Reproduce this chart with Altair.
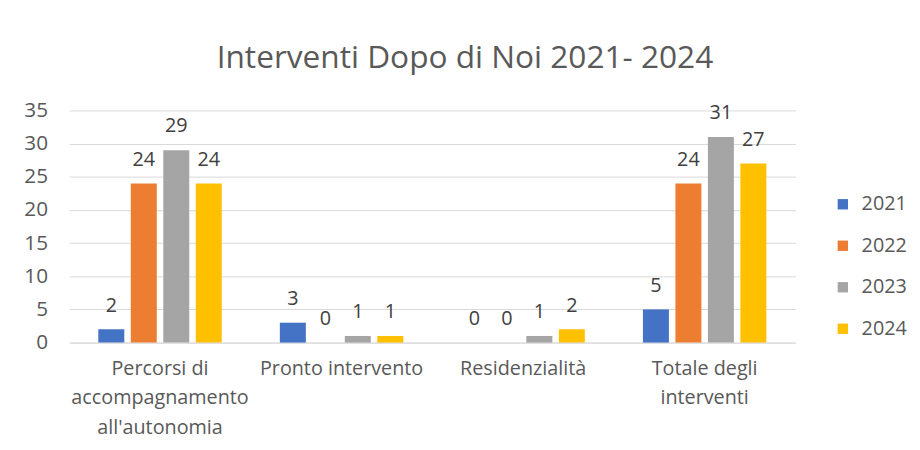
import json
import altair as alt
import pandas as pd

categories = ["Percorsi di accompagnamento all'autonomia", "Pronto intervento",
              "Residenzialità", "Totale degli interventi"]
years = ["2021", "2022", "2023", "2024"]
v2021 = [2, 3, 0, 5]
v2022 = [24, 0, 0, 24]
v2023 = [29, 1, 1, 31]
v2024 = [24, 1, 2, 27]
label_lines = [["Percorsi di", "accompagnamento", "all'autonomia"],
               ["Pronto intervento"], ["Residenzialità"],
               ["Totale degli", "interventi"]]
colors = ["#4472C4", "#ED7D31", "#A5A5A5", "#FFC000"]
y_ticks = [0, 5, 10, 15, 20, 25, 30, 35]

rows = []
for yr, vals in zip(years, [v2021, v2022, v2023, v2024]):
    for c, v in zip(categories, vals):
        rows.append({"category": c, "year": yr, "value": v})
df = pd.DataFrame(rows)

label_expr = "".join(
    f"datum.value == {json.dumps(c, ensure_ascii=False)} ? {json.dumps(l, ensure_ascii=False)} : "
    for c, l in zip(categories, label_lines)
) + "datum.label"

FONT = "Open Sans"
TXT = "#595959"

base = alt.Chart(df).encode(
    x=alt.X("category:N", sort=categories,
            scale=alt.Scale(paddingInner=0.32, paddingOuter=0.16),
            axis=alt.Axis(title=None, labelExpr=label_expr, labelAngle=0, ticks=False,
                          domainColor="#D9D9D9", labelFontSize=20, labelColor=TXT,
                          labelFont=FONT, labelLineHeight=30, labelPadding=16,
                          labelLimit=0)),
    xOffset=alt.XOffset("year:N", sort=years,
                        scale=alt.Scale(paddingInner=0.2, paddingOuter=0)),
    y=alt.Y("value:Q", scale=alt.Scale(domain=[0, 35]),
            axis=alt.Axis(title=None, values=y_ticks, domain=False, ticks=False,
                          gridColor="#D9D9D9", labelFontSize=21, labelColor=TXT,
                          labelFont=FONT, labelPadding=22, minExtent=57, maxExtent=57)),
)

bars = base.mark_bar().encode(
    color=alt.Color("year:N", sort=years,
                    scale=alt.Scale(domain=years, range=colors),
                    legend=alt.Legend(title=None, orient="none", legendX=773, legendY=85,
                                      symbolType="square", symbolSize=110,
                                      symbolStrokeWidth=0, labelFontSize=20,
                                      labelColor=TXT, labelFont=FONT,
                                      rowPadding=22, labelOffset=9))
)

labels = base.mark_text(baseline="alphabetic", dy=-18, fontSize=20, font=FONT,
                        color="#404040").encode(text="value:Q")

chart = (bars + labels).properties(
    width=735, height=235,
    padding={"left": 5, "top": 32, "right": 5, "bottom": 5},
    title=alt.TitleParams("Interventi Dopo di Noi 2021- 2024", fontSize=32, font=FONT,
                          fontWeight="normal", color=TXT, anchor="middle",
                          offset=25, dx=33),
).configure_view(stroke=None)

chart.save("out.html", embed_options={"renderer": "svg", "actions": False})
